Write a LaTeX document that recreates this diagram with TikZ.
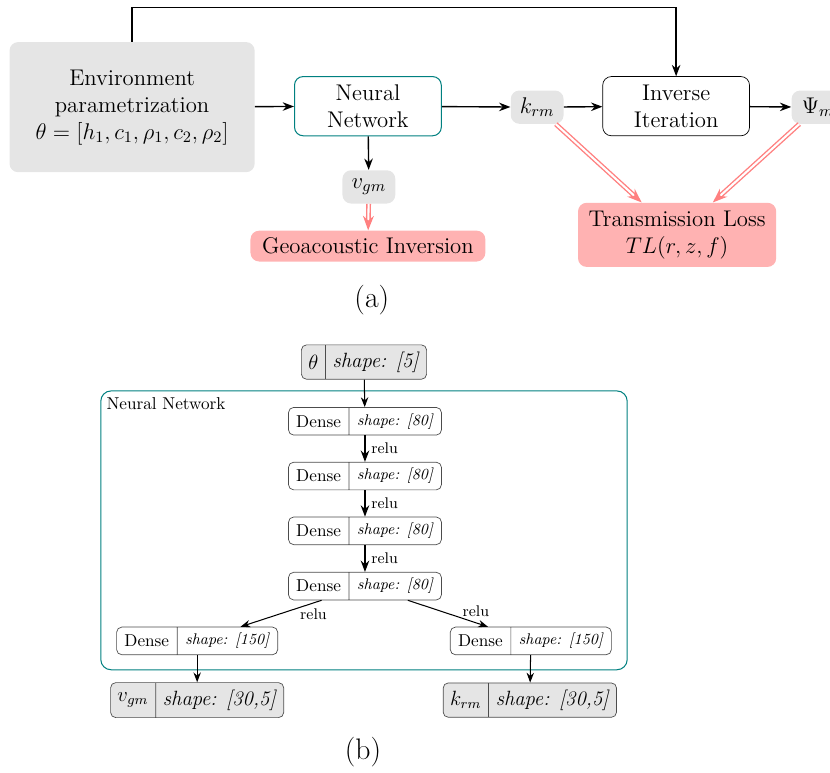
\RequirePackage{fix-cm}
\documentclass[tikz,border=0pt]{standalone}
\usetikzlibrary{arrows.meta,shapes.multipart}
\newcommand{\bigfont}{\fontsize{13.2}{15.7}\selectfont}
\tikzset{
  block/.style={draw, rounded corners=5pt, align=center, font=\bigfont, minimum width=3cm, minimum height=1.21cm, fill=white},
  tag/.style={fill=black!10, rounded corners=5pt, font=\bigfont, minimum width=1.08cm, minimum height=0.68cm, inner sep=2pt},
  result/.style={fill=red!30, rounded corners=5pt, align=center, font=\bigfont, inner sep=3pt},
  layer/.style={draw=black!70, rectangle split, rectangle split horizontal, rectangle split parts=2, rounded corners=3pt, inner xsep=4.5pt, inner ysep=3.5pt, fill=white},
  tensor/.style={layer, fill=black!10, font=\large, inner xsep=4pt, inner ysep=4pt},
  flow/.style={-{Stealth}, thick},
  feed/.style={-{Stealth}, draw=red!50, double, double distance=1.2pt, thick},
}
\begin{document}
\begin{tikzpicture}
    \useasboundingbox (0,0) rectangle (16.965,-15.78);
    % (a) pipeline
    \node[fill=black!10, rounded corners=5pt, align=center, font=\bigfont, minimum width=5.01cm, minimum height=2.66cm] (env) at (2.70,-2.19)
        {Environment\\parametrization\\$\theta = [h_1, c_1, \rho_1, c_2, \rho_2]$};
    \node[block, draw=teal, semithick] (nn) at (7.52,-2.17) {Neural\\Network};
    \node[tag] (vgm) at (7.54,-3.82) {$v_{gm}$};
    \node[result, minimum width=4.8cm, minimum height=0.63cm] (geo) at (7.52,-5.03) {Geoacoustic Inversion};
    \node[tag] (krm) at (10.98,-2.19) {$k_{rm}$};
    \node[block] (inv) at (13.82,-2.17) {Inverse\\Iteration};
    \node[tag] (psi) at (16.72,-2.19) {$\Psi_m$};
    \node[result, minimum width=4.05cm, minimum height=1.31cm] (tl) at (13.84,-4.80) {Transmission Loss\\$TL(r,z,f)$};
    \draw[flow] (env) -- (nn);
    \draw[flow] (nn) -- (krm);
    \draw[flow] (krm) -- (inv);
    \draw[flow] (inv) -- (psi);
    \draw[flow] (nn) -- (vgm);
    \draw[flow] (env.north) -- ++(0,0.70) -| (inv.north);
    \draw[feed] (vgm) -- (geo);
    \draw[feed] (krm) -- (tl);
    \draw[feed] (psi) -- (tl);
    \node[font=\LARGE] (cap-a) at (7.60,-6.13) {(a)};
    % (b) network layers
    \draw[teal, semithick, rounded corners=6pt] (2.06,-7.99) rectangle (12.82,-13.69);
    \node[anchor=north west, inner sep=2pt] (nn-label) at (2.10,-8.05) {Neural Network};
    \node[tensor] (theta) at (7.44,-7.40) {$\theta$\nodepart{two}\textit{shape: [5]}};
    \foreach \idx/\y in {1/-8.61, 2/-9.73, 3/-10.85, 4/-11.98}
        \node[layer] (dense-\idx) at (7.46,\y) {Dense\nodepart{two}{\small\textit{shape: [80]}}};
    \node[layer] (dense-l) at (4.03,-13.10) {Dense\nodepart{two}{\small\textit{shape: [150]}}};
    \node[layer] (dense-r) at (10.85,-13.10) {Dense\nodepart{two}{\small\textit{shape: [150]}}};
    \node[tensor] (out-v) at (4.03,-14.31) {$v_{gm}$\nodepart{two}\textit{shape: [30,5]}};
    \node[tensor] (out-k) at (10.83,-14.31) {$k_{rm}$\nodepart{two}\textit{shape: [30,5]}};
    \draw[-{Stealth}, semithick] (theta) -- (dense-1);
    \foreach \a/\b in {1/2, 2/3, 3/4}
        \draw[-{Stealth}, thick] (dense-\a) -- node[right, font=\small] {relu} (dense-\b);
    \draw[-{Stealth}, semithick] (dense-4) -- node[below, pos=0.1, font=\small] {relu} (dense-l);
    \draw[-{Stealth}, semithick] (dense-4) -- node[above, pos=0.85, font=\small] {relu} (dense-r);
    \draw[-{Stealth}, semithick] (dense-l) -- (out-v);
    \draw[-{Stealth}, semithick] (dense-r) -- (out-k);
    \node[font=\LARGE] (cap-b) at (7.42,-15.37) {(b)};
\end{tikzpicture}
\end{document}
